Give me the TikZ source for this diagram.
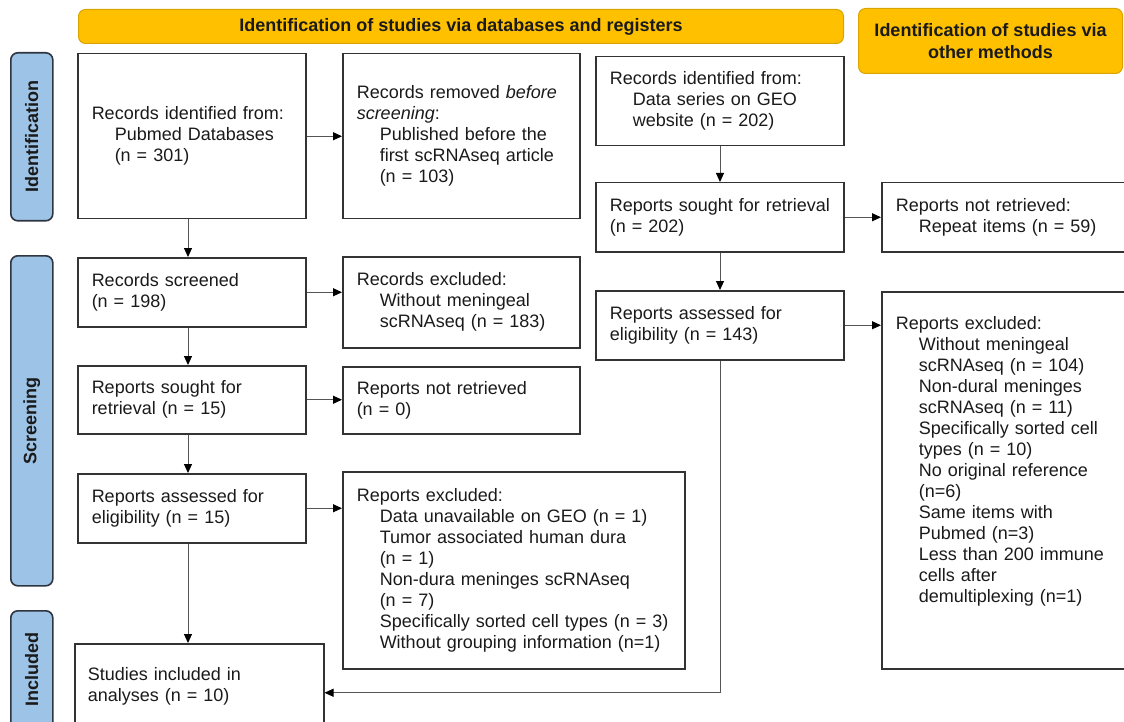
\documentclass[tikz,border=0pt]{standalone}
\usepackage{fontspec}
\usepackage{graphicx}
\setmainfont{Liberation Sans}
\usetikzlibrary{arrows.meta,calc}
\definecolor{hdr}{HTML}{FFC000}
\definecolor{hdrline}{HTML}{D9A400}
\definecolor{side}{HTML}{9DC3E6}
\definecolor{sideline}{HTML}{2E3440}
\definecolor{boxline}{HTML}{333333}
\definecolor{arr}{HTML}{555555}
\definecolor{txt}{HTML}{1A1A1A}
\newcommand{\myind}{\hspace*{23pt}}
\hyphenpenalty=10000
\exhyphenpenalty=10000
\begin{document}
\begin{tikzpicture}[x=1pt,y=-1pt,
  font=\fontsize{18}{21}\selectfont,
  box/.style={draw=boxline, line width=1.5pt, rectangle, inner xsep=14pt, inner ysep=2pt,
    align=left, anchor=north west, text=txt},
  hdrbox/.style={draw=hdrline, fill=hdr, rounded corners=7pt, line width=1pt,
    font=\fontsize{18}{22}\selectfont\bfseries, align=center, anchor=north west,
    inner sep=0pt, text=txt},
  sidebar/.style={draw=sideline, fill=side, rounded corners=7pt, line width=1.6pt,
    anchor=north west, inner sep=0pt, font=\fontsize{18}{22}\selectfont\bfseries, text=txt},
  flow/.style={draw=arr, line width=1pt, -{Triangle[length=9pt,width=8pt,fill=black,color=black]}}
]
\path[use as bounding box] (0,0) rectangle (1124,722);
\clip (0,0) rectangle (1124,722);

% headers
\node[hdrbox, minimum width=765pt, minimum height=34pt] (h1) at (78,9)
  {Identification of studies via databases and registers};
\node[hdrbox, minimum width=264pt, minimum height=65pt] (h2) at (858,8)
  {Identification of studies via\\other methods};

% side bars
\node[sidebar, minimum width=42pt, minimum height=168pt] (s1) at (10,52)
  {\rotatebox{90}{Identification}};
\node[sidebar, minimum width=42pt, minimum height=330pt] (s2) at (10,255)
  {\rotatebox{90}{Screening}};
\node[sidebar, minimum width=42pt, minimum height=118pt] (s3) at (10,610)
  {\rotatebox{90}{Included}};

% boxes
\node[box, minimum width=228pt, text width=200pt, minimum height=165pt] (b1) at (77,53)
  {Records identified from:\\\myind Pubmed Databases\\\myind (n = 301)};
\node[box, minimum width=237pt, text width=209pt, minimum height=165pt] (b2) at (342,53)
  {Records removed \textit{before}\\\textit{screening}:\\\myind Published before the\\\myind first scRNAseq article\\\myind (n = 103)};
\node[box, minimum width=248pt, text width=220pt, minimum height=89pt] (b3) at (595,56)
  {Records identified from:\\\myind Data series on GEO\\\myind website (n = 202)};
\node[box, minimum width=248pt, text width=226pt, inner xsep=11pt, minimum height=69pt] (b4) at (595,182)
  {\hspace*{3pt}\mbox{Reports sought for retrieval}\\\hspace*{3pt}(n = 202)};
\node[box, minimum width=245pt, text width=217pt, minimum height=69pt] (b5) at (881,182)
  {Reports not retrieved:\\\myind Repeat items (n = 59)};
\node[box, minimum width=228pt, text width=200pt, minimum height=69pt] (b6) at (77,257)
  {Records screened\\(n = 198)};
\node[box, minimum width=237pt, text width=209pt, minimum height=91pt] (b7) at (342,256)
  {Records excluded:\\\myind Without meningeal\\\myind scRNAseq (n = 183)};
\node[box, minimum width=248pt, text width=220pt, minimum height=69pt] (b8) at (595,290)
  {Reports assessed for\\eligibility (n = 143)};
\node[box, minimum width=245pt, text width=217pt, minimum height=377pt] (b9) at (881,291)
  {Reports excluded:\\\myind Without meningeal\\\myind scRNAseq (n = 104)\\\myind Non-dural meninges\\\myind scRNAseq (n = 11)\\\myind Specifically sorted cell\\\myind types (n = 10)\\\myind No original reference\\\myind (n=6)\\\myind Same items with\\\myind Pubmed (n=3)\\\myind Less than 200 immune\\\myind cells after\\\myind demultiplexing (n=1)\\[20pt]\mbox{}};
\node[box, minimum width=228pt, text width=200pt, minimum height=68pt] (b10) at (77,365)
  {Reports sought for\\retrieval (n = 15)};
\node[box, minimum width=237pt, text width=209pt, minimum height=67pt] (b11) at (342,366)
  {Reports not retrieved\\(n = 0)};
\node[box, minimum width=228pt, text width=200pt, minimum height=69pt] (b12) at (77,473)
  {Reports assessed for\\eligibility (n = 15)};
\node[box, minimum width=342pt, text width=314pt, minimum height=197pt] (b13) at (342,471)
  {Reports excluded:\\\myind Data unavailable on GEO (n = 1)\\\myind Tumor associated human dura\\\myind (n = 1)\\\myind Non-dura meninges scRNAseq\\\myind (n = 7)\\\myind Specifically sorted cell types (n = 3)\\\myind Without grouping information (n=1)};
\node[box, minimum width=249pt, text width=223pt, inner xsep=13pt, minimum height=86pt] (b14) at (74,643)
  {Studies included in\\analyses (n = 10)};

% connectors
\draw[flow] (b1.south -| 188,0) -- (b6.north -| 188,0);
\draw[flow] (b1.east) -- (b1.east -| b2.west);
\draw[flow] (b6.east) -- (b6.east -| b7.west);
\draw[flow] (b6.south -| 188,0) -- (b10.north -| 188,0);
\draw[flow] (b10.east) -- (b10.east -| b11.west);
\draw[flow] (b10.south -| 188,0) -- (b12.north -| 188,0);
\draw[flow] (b12.east) -- (b12.east -| b13.west);
\draw[flow] (b12.south -| 188,0) -- (b14.north -| 188,0);
\draw[flow] (b3.south -| 720,0) -- (b4.north -| 720,0);
\draw[flow] (b4.east) -- (b4.east -| b5.west);
\draw[flow] (b4.south -| 720,0) -- (b8.north -| 720,0);
\draw[flow] (b8.east) -- (b8.east -| b9.west);
\draw[flow] (b8.south -| 720,0) |- ([yshift=-6pt]b14.east);
\end{tikzpicture}
\end{document}
